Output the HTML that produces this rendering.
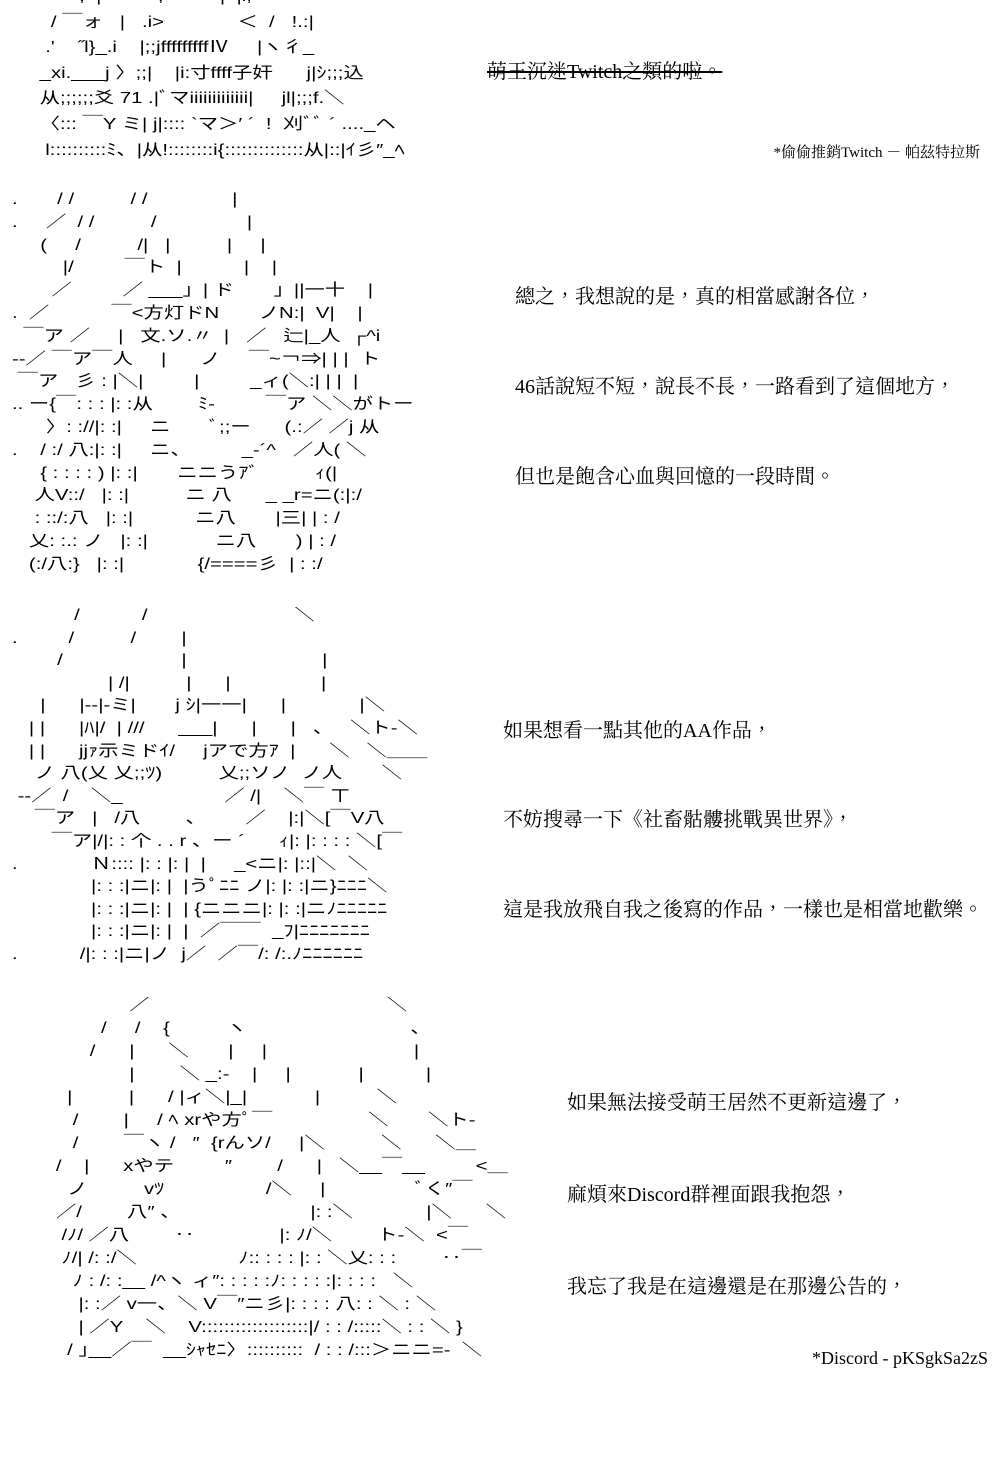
<!DOCTYPE html>
<html><head><meta charset="utf-8"><style>
html,body{margin:0;padding:0;background:#fff;}
body{width:1000px;height:1474px;position:relative;overflow:hidden;color:#000;}
.aa{position:absolute;white-space:pre;font-family:"Liberation Sans","Noto Sans CJK JP",sans-serif;font-size:16px;margin:0;transform-origin:0 0;transform:scaleX(1.27);}
.t{position:absolute;white-space:nowrap;font-family:"Liberation Serif","Noto Serif CJK TC",serif;font-size:20px;line-height:24px;}
.s{font-size:15px;}
</style></head><body>
<pre class="aa" style="left:34px;top:-16px;line-height:25.6px">        ,  |          ,          |  |l,
   / ￣ォ   |   .i&gt;             ＜  /   !.:|
  .'    ˝l}_.i    |;;jfffffffffⅣ     |ヽ彳_
 _xi.___j 〉;;|    |i:寸ffff子奸      j|ｼ;;;込
 从;;;;;;爻 71 .|ﾞマiiiiiiiiiiiii|     jl|;;;f.＼
 〈::: ￣Y ミ| j|:::: `マ＞′ ´  !  刈ﾞﾞ ´ ...._ヘ
  l::::::::::ﾐ、|从!::::::::i{::::::::::::::从|::|ｲ彡″_ﾍ</pre>
<pre class="aa" style="left:12px;top:189px;line-height:22.8px">.       / /          / /               |
.     ／  / /          /                |
     (     /          /|   |          |     |
         |/         ￣ト  |           |    |
       ／         ／ ___」| ド       」||一十    |
.  ／           ￣<方灯ドN       ノN:|  V|    |
  ￣ア ／     |   文.ソ.〃  |   ／   辷|_人  ┌^i
--／ ￣ア￣人     |      ノ     ￣~￢⇒| | |  ト
 ￣ア   彡 : |＼|         |         _ィ(＼:| | |  |
.. ー{￣: : : |: :从        ﾐ-         ￣ア ＼＼がトー
      〉: ://|: :|     ニ       ﾞ;;ー      (.:／ ／j 从
.    / :/ 八:|: :|     ニ、         _-´^   ／人( ＼
     { : : : : ) |: :|       ニニうｱﾞ          ｨ(|
    人V::/   |: :|          ニ 八      _ _r=ニ(:|:/
    : ::/:八   |: :|           ニ八       |三| | : /
   乂: :.: ノ   |: :|            ニ八       ) | : /
   (:/八:}   |: :|             {/====彡  | : :/</pre>
<pre class="aa" style="left:12px;top:605px;line-height:22.6px">           /           /                          ＼
.         /          /        |
        /                     |                        |
                 | /|          |      |                |
     |      |--|-ミ|       j ｼ|一一|      |             |＼
   | |      |ﾊ|/  | ///      ___|      |      |   、   ＼ト-＼
   | |      jjｧ示ミドｲ/     jアで方ｱ  |      ＼   ＼＿＿
    ノ 八(乂 乂;;ﾂ)          乂;;ソノ  ノ人       ＼
 --／  /    ＼_                  ／ /|    ＼￣ ㄒ
    ￣ア   |   /八        、       ／    |:|＼[￣V八
       ￣ア|/|: : 个 . . r 、ー ´      ｨ|: |: : : : ＼[￣
.             Ｎ:::: |: : |: |  |     _<ニ|: |::|＼  ＼
              |: : :|ニ|: |  |うﾟﾆﾆ ノ|: |: :|ニ}ﾆﾆﾆ＼
              |: : :|ニ|: |  | {ニニニ|: |: :|ニﾉﾆﾆﾆﾆﾆ
              |: : :|ニ|: |  |  ／￣￣  _ﾌ|ﾆﾆﾆﾆﾆﾆﾆ
.           /|: : :|ニ|ノ  j／  ／￣/: /:.ﾉﾆﾆﾆﾆﾆﾆ</pre>
<pre class="aa" style="left:22px;top:994px;line-height:23px">                   ／                                          ＼
              /     /    {          ヽ                             、
            /      |      ＼       |     |                          |
                   |        ＼ _:-    |     |            |           |
        |          |      / |ィ＼|_|            |          ＼
         /        |     / ﾍ xrや方ﾟ￣                 ＼       ＼ト-
         /        ￣ヽ /   ″  {rんソ/     |＼          ＼      ＼＿
      /    |      xやテ         ″        /      |   ＼__￣__         <＿
        ノ          vﾂ                  /＼     |                ﾞく″￣
      ／/        八″ 、                       |: :＼             |＼      ＼
       /ﾉ/ ／八        ‥               |: ﾉ/＼        ト-＼  <￣
       ﾉ/| /: :/＼                  ﾉ:: : : : |: : ＼乂: : :        ‥￣
         ﾉ : /: :__ /^ヽ ィ″: : : : :ﾉ: : : : :|: : : :   ＼
          |: :／ v一、＼ V￣″ニ彡|: : : : 八: : ＼ : ＼
          | ／Y    ＼    V:::::::::::::::::::|/ : : /:::::＼ : : ＼ }
        / ｣__／￣  __ｼｬｾﾆ〉::::::::::  / : : /:::＞ニニ=-  ＼</pre>

<div class="t" style="left:487px;top:60px;text-decoration:line-through;">萌王沉迷Twitch之類的啦。</div>
<div class="t s" style="right:20px;top:141px;">*偷偷推銷Twitch － 帕茲特拉斯</div>
<div class="t" style="left:515px;top:285px;">總之，我想說的是，真的相當感謝各位，</div>
<div class="t" style="left:515px;top:375px;">46話說短不短，說長不長，一路看到了這個地方，</div>
<div class="t" style="left:515px;top:465px;">但也是飽含心血與回憶的一段時間。</div>
<div class="t" style="left:503px;top:719px;">如果想看一點其他的AA作品，</div>
<div class="t" style="left:503px;top:808px;">不妨搜尋一下《社畜骷髏挑戰異世界》，</div>
<div class="t" style="left:503px;top:898px;">這是我放飛自我之後寫的作品，一樣也是相當地歡樂。</div>
<div class="t" style="left:567px;top:1091px;">如果無法接受萌王居然不更新這邊了，</div>
<div class="t" style="left:567px;top:1183px;">麻煩來Discord群裡面跟我抱怨，</div>
<div class="t" style="left:567px;top:1275px;">我忘了我是在這邊還是在那邊公告的，</div>
<div class="t" style="right:12px;top:1346px;font-size:18px;">*Discord - pKSgkSa2zS</div>
</body></html>
